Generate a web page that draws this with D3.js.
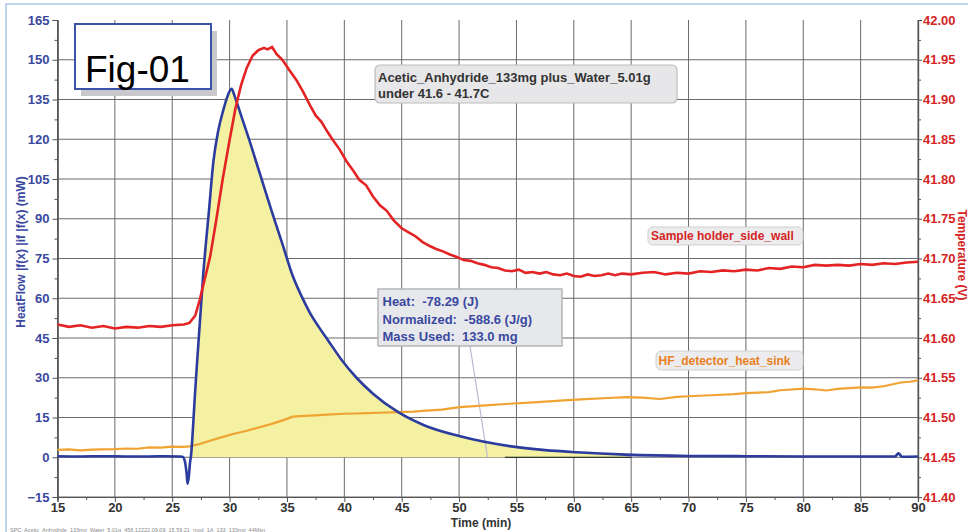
<!DOCTYPE html>
<html><head><meta charset="utf-8">
<script src="https://cdn.jsdelivr.net/npm/d3@7/dist/d3.min.js"></script>
<style>
html,body{margin:0;padding:0;background:#fff;}
svg{display:block;font-family:"Liberation Sans",Arial,sans-serif;}
</style></head>
<body>
<svg id="chart" width="968" height="532"></svg>
<script>
// ---------- DATA ----------
const xTicks = [15,20,25,30,35,40,45,50,55,60,65,70,75,80,85,90];
const leftTicks = [-15,0,15,30,45,60,75,90,105,120,135,150,165];
const rightTicks = [41.40,41.45,41.50,41.55,41.60,41.65,41.70,41.75,41.80,41.85,41.90,41.95,42.00];

// Heat flow (mW), left axis
const hfTime = [15,17,19,21,23,24.5,25.5,25.9,26.1,26.25,26.34,26.45,26.55,26.62,27.0,27.7,28.2,28.6,29.0,29.45,29.8,30.17,30.46,31.0,31.62,32.64,33.66,34.6,35.54,36.3,37.0,37.8,38.6,39.8,41.06,42.5,44.7,47.0,50.0,54.4,57.5,60.2,64.5,70,75,80,85,88.0,88.3,88.6,90];
const hfValue = [0.4,0.3,0.4,0.3,0.3,0.4,0.3,0.2,-1.5,-6,-10,-7,-2,0,25,69,93,112,123,131,136,139,136,129,121,107,93,80.5,68,60.5,54.5,49,44,36.5,30,24,17,12,8,4.2,2.7,1.9,1.0,0.5,0.4,0.3,0.3,0.3,1.5,0.2,0.3];

// Sample holder side wall (right axis)
const shTime = [15,16,17,18,19,20,21,22,23,24,25,26,26.5,27.0,27.4,27.8,28.3,28.8,29.4,30.0,30.5,31.0,31.5,32.0,32.5,33.0,33.3,33.7,34.1,34.6,35.2,35.8,36.4,37.0,37.5,38.0,38.5,39.0,39.6,40.2,40.8,41.3,41.9,42.5,43.1,43.7,44.3,45.0,45.6,46.2,46.8,47.4,48.0,48.6,49.2,49.8,50.4,51.0,51.6,52.2,52.8,53.4,54.0,54.6,55.2,55.8,56.4,57.0,57.6,58.2,58.8,59.4,60.0,60.6,61.2,61.8,62.4,63.0,63.6,64.2,65,66,67,68,69,70,71,72,73,74,75,76,77,78,79,80,81,82,83,84,85,86,87,88,89,90];
const shValue = [41.617,41.614,41.616,41.613,41.615,41.612,41.614,41.613,41.615,41.614,41.616,41.617,41.619,41.628,41.648,41.672,41.702,41.745,41.800,41.849,41.888,41.918,41.940,41.955,41.962,41.965,41.963,41.966,41.957,41.950,41.937,41.925,41.910,41.893,41.880,41.872,41.860,41.849,41.837,41.822,41.810,41.799,41.792,41.778,41.767,41.760,41.748,41.738,41.733,41.728,41.721,41.716,41.712,41.709,41.705,41.702,41.698,41.697,41.694,41.692,41.689,41.688,41.685,41.684,41.686,41.682,41.683,41.681,41.683,41.680,41.679,41.681,41.678,41.677,41.680,41.678,41.679,41.681,41.679,41.681,41.680,41.682,41.683,41.680,41.682,41.681,41.684,41.683,41.685,41.684,41.686,41.685,41.688,41.687,41.690,41.689,41.692,41.691,41.692,41.691,41.693,41.692,41.694,41.693,41.695,41.696];

// HF detector heat sink (right axis)
const hsTime = [15,16,17,18,19,20,21,22,23,24,25,26,26.5,27.4,28.5,29.5,30.3,31.5,32.6,33.6,34.7,35.5,36.5,37.5,38.5,39.9,41,42,43,44.7,46,47.2,48.5,50.06,52,54.4,56.5,58.8,61,63,64.6,66,67.5,69,70,72,74,75,77,78,80,81,82,83,84,85,86,87,88.5,89.3,90];
const hsValue = [41.4593,41.4600,41.4587,41.4597,41.4600,41.4603,41.4610,41.4607,41.4623,41.4620,41.4633,41.4630,41.4637,41.4667,41.4717,41.4760,41.4793,41.4833,41.4877,41.4917,41.4967,41.5010,41.5020,41.5027,41.5037,41.5047,41.5050,41.5055,41.5060,41.5067,41.5075,41.5087,41.5100,41.5130,41.5150,41.5173,41.5190,41.5213,41.5230,41.5245,41.5257,41.5250,41.5233,41.5260,41.5267,41.5280,41.5295,41.5307,41.5320,41.5343,41.5363,41.5355,41.5340,41.5360,41.5370,41.5380,41.5375,41.5393,41.5440,41.5450,41.5467];

const fillStart = 26.62, fillEnd = 65;
const baseStart = 54, baseEnd = 65;

// ---------- SCALES ----------
const svg = d3.select("#chart");
const X0 = 57.5, X1 = 918, Y0 = 497, Y1 = 20;
const x = d3.scaleLinear().domain([15,90]).range([X0,X1]);
const yL = d3.scaleLinear().domain([-15,165]).range([Y0,Y1]);
const yR = d3.scaleLinear().domain([41.40,42.00]).range([Y0,Y1]);

// outer frame
svg.append("rect").attr("x",6).attr("y",4).attr("width",1000).attr("height",600)
  .attr("fill","none").attr("stroke","#a9c6e6").attr("stroke-width",1.5);

// grid
const grid = svg.append("g").attr("stroke","#6a6a6a").attr("stroke-width",1);
xTicks.forEach(t=>{ grid.append("line").attr("x1",x(t)).attr("x2",x(t)).attr("y1",Y1).attr("y2",Y0); });
leftTicks.forEach(v=>{ if(v!==165) grid.append("line").attr("x1",X0).attr("x2",X1).attr("y1",yL(v)).attr("y2",yL(v)); });

const hf = hfTime.map((t,i)=>({t, v:hfValue[i]}));
const sh = shTime.map((t,i)=>({t, v:shValue[i]}));
const hs = hsTime.map((t,i)=>({t, v:hsValue[i]}));

// yellow integration fill
const fillData = hf.filter(d=>d.t>=fillStart && d.t<=fillEnd);
svg.append("path").datum(fillData)
  .attr("d", d3.area().x(d=>x(d.t)).y0(yL(0)).y1(d=>yL(d.v)).curve(d3.curveMonotoneX))
  .attr("fill","#f4f2a2");

// baseline
svg.append("line").attr("x1",x(baseStart)).attr("x2",x(baseEnd)).attr("y1",yL(0)).attr("y2",yL(0))
  .attr("stroke","#111").attr("stroke-width",1);

// leader line
svg.append("line").attr("x1",470).attr("y1",346).attr("x2",487.5).attr("y2",yL(0))
  .attr("stroke","#b9b9d2").attr("stroke-width",1.2);

// axes
const axL = svg.append("g").attr("transform",`translate(${X0},0)`)
  .call(d3.axisLeft(yL).tickValues(leftTicks).tickSize(5).tickPadding(3).tickFormat(d3.format("d")));
const axLm = svg.append("g").attr("transform",`translate(${X0},0)`)
  .call(d3.axisLeft(yL).tickValues(leftTicks.slice(0,-1).map(v=>v+7.5)).tickSize(3).tickFormat(""));
const axR = svg.append("g").attr("transform",`translate(${X1},0)`)
  .call(d3.axisRight(yR).tickValues(rightTicks).tickSize(4).tickPadding(1).tickFormat(d3.format(".2f")));
const axRm = svg.append("g").attr("transform",`translate(${X1},0)`)
  .call(d3.axisRight(yR).tickValues(rightTicks.slice(0,-1).map(v=>v+0.025)).tickSize(3).tickFormat(""));
const axB = svg.append("g").attr("transform",`translate(0,${Y0})`)
  .call(d3.axisBottom(x).tickValues(xTicks).tickSize(5).tickPadding(1).tickFormat(d3.format("d")));
const axBm = svg.append("g").attr("transform",`translate(0,${Y0})`)
  .call(d3.axisBottom(x).tickValues(xTicks.slice(0,-1).map(v=>v+2.5)).tickSize(3).tickFormat(""));
[axL,axLm,axR,axRm,axB,axBm].forEach(a=>{
  a.select(".domain").attr("stroke","#555").attr("stroke-width",1.2);
  a.selectAll(".tick line").attr("stroke","#555");
});
axL.selectAll("text").attr("fill","#3a48a0").style("font-size","13px").style("font-weight","bold");
axR.selectAll("text").attr("fill","#d42424").style("font-size","13px").style("font-weight","bold");
axB.selectAll("text").attr("fill","#333").style("font-size","13px").style("font-weight","bold");
[axL,axLm,axR,axRm,axB,axBm].forEach(a=>a.style("font-family","'Liberation Sans',Arial,sans-serif"));

// series
svg.append("path").datum(hs)
  .attr("d", d3.line().x(d=>x(d.t)).y(d=>yR(d.v)))
  .attr("fill","none").attr("stroke","#f0a232").attr("stroke-width",2.2);
svg.append("path").datum(hf)
  .attr("d", d3.line().x(d=>x(d.t)).y(d=>yL(d.v)).curve(d3.curveMonotoneX))
  .attr("fill","none").attr("stroke","#2c3c9e").attr("stroke-width",2.6);
svg.append("path").datum(sh)
  .attr("d", d3.line().x(d=>x(d.t)).y(d=>yR(d.v)))
  .attr("fill","none").attr("stroke","#e42424").attr("stroke-width",2.6);

// axis titles
svg.append("text").attr("transform","translate(25,252) rotate(-90)").attr("text-anchor","middle")
  .attr("fill","#3a48a0").style("font-size","12px").style("font-weight","bold")
  .text("HeatFlow |f(x) |if |f(x) (mW)");
svg.append("text").attr("transform","translate(958,255) rotate(90)").attr("text-anchor","middle")
  .attr("fill","#d42424").style("font-size","12px").style("font-weight","bold")
  .text("Temperature (V)");
svg.append("text").attr("x",481).attr("y",527).attr("text-anchor","middle")
  .attr("fill","#333").style("font-size","12px").style("font-weight","bold").text("Time (min)");

// Fig-01 box
svg.append("rect").attr("x",81).attr("y",31).attr("width",136).attr("height",65).attr("fill","#c9c9cd");
svg.append("rect").attr("x",75).attr("y",24).attr("width",136).attr("height",65)
  .attr("fill","#fff").attr("stroke","#3a52a8").attr("stroke-width",2);
svg.append("text").attr("x",85).attr("y",81.5).attr("fill","#000").style("font-size","37px").text("Fig-01");

// title annotation
svg.append("rect").attr("x",375).attr("y",65).attr("width",302).attr("height",38).attr("rx",5)
  .attr("fill","#e7e7e9").attr("stroke","#bdbdbd").attr("stroke-width",1.2);
svg.append("text").attr("x",378).attr("y",81.5).attr("fill","#333").style("font-size","13px").style("font-weight","bold")
  .text("Acetic_Anhydride_133mg plus_Water_5.01g");
svg.append("text").attr("x",378).attr("y",98).attr("fill","#333").style("font-size","13px").style("font-weight","bold")
  .text("under 41.6 - 41.7C");

// heat annotation
svg.append("rect").attr("x",378).attr("y",289).attr("width",184).attr("height",57)
  .attr("fill","#e6e8ec").attr("stroke","#b5b5b8").attr("stroke-width",1.5);
const heatLines = ["Heat:  -78.29 (J)","Normalized:  -588.6 (J/g)","Mass Used:  133.0 mg"];
heatLines.forEach((s,i)=>{
  svg.append("text").attr("x",382.5).attr("y",306+i*17.5).attr("fill","#3a48a0")
    .style("font-size","13px").style("font-weight","bold").style("white-space","pre").attr("xml:space","preserve").text(s);
});

// series labels
svg.append("rect").attr("x",648).attr("y",227).attr("width",155).attr("height",18).attr("rx",5)
  .attr("fill","#ececee").attr("stroke","#cfcfcf");
svg.append("text").attr("x",651).attr("y",240).attr("fill","#d42424").style("font-size","12px").style("font-weight","bold")
  .text("Sample holder_side_wall");
svg.append("rect").attr("x",656).attr("y",351).attr("width",147).attr("height",19).attr("rx",5)
  .attr("fill","#ececee").attr("stroke","#cfcfcf");
svg.append("text").attr("x",658.5).attr("y",365).attr("fill","#e8801e").style("font-size","12px").style("font-weight","bold")
  .text("HF_detector_heat_sink");

// tiny footer text
svg.append("text").attr("x",10).attr("y",532).attr("fill","#8a8a8a").style("font-size","5.5px")
  .text("SPC: Acetic_Anhydride_133mg_Water_5.01g_456.12222.09.09_15.59.21_mod_1A_133_133mg_44Msn");
</script>
</body></html>
